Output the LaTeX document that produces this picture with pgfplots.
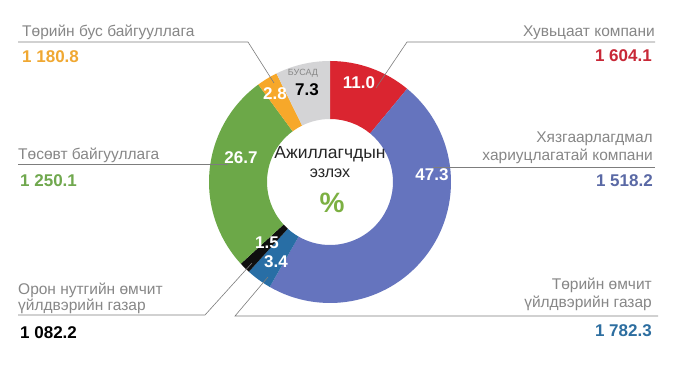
\documentclass[border=0pt]{standalone}
\usepackage{pgfplots}
\pgfplotsset{compat=1.18}
\usepackage{fontspec}
\setmainfont{Liberation Sans}
\definecolor{cRed}{RGB}{218,37,48}
\definecolor{cBlue}{RGB}{101,116,190}
\definecolor{cTeal}{RGB}{40,110,165}
\definecolor{cBlack}{RGB}{15,15,15}
\definecolor{cGreen}{RGB}{108,168,72}
\definecolor{cOrange}{RGB}{247,168,42}
\definecolor{cGrey}{RGB}{212,212,214}
\definecolor{tOrange}{RGB}{240,168,50}
\definecolor{tGreen}{RGB}{112,168,78}
\definecolor{tRed}{RGB}{200,40,55}
\definecolor{tBlue}{RGB}{90,105,165}
\definecolor{tTeal}{RGB}{45,110,160}
\definecolor{cLab}{RGB}{135,135,135}
\definecolor{cLine}{RGB}{125,125,125}
\definecolor{cPct}{RGB}{124,176,66}
\begin{document}
\begin{tikzpicture}
\begin{axis}[x=1pt,y=1pt,xmin=0,xmax=681,ymin=0,ymax=371,hide axis,clip=false]
\fill[white] (axis cs:0,0) rectangle (axis cs:681,371);
\xdef\cum{0}
\foreach \v/\c in {11.0/cRed,47.3/cBlue,3.4/cTeal,1.5/cBlack,26.7/cGreen,2.8/cOrange,7.3/cGrey}{
  \pgfmathsetmacro\a{90-3.6*\cum}
  \pgfmathsetmacro\b{90-3.6*(\cum+\v)}
  \pgfmathsetmacro\xo{330+121*cos(\a)}
  \pgfmathsetmacro\yo{189+121*sin(\a)}
  \pgfmathsetmacro\xi{330+63*cos(\b)}
  \pgfmathsetmacro\yi{189+63*sin(\b)}
  \edef\temp{\noexpand\fill[fill=\c] (axis cs:\xo,\yo) arc[start angle=\a, end angle=\b, radius=121pt] -- (axis cs:\xi,\yi) arc[start angle=\b, end angle=\a, radius=63pt] -- cycle;}
  \temp
  \pgfmathsetmacro\newcum{\cum+\v}
  \xdef\cum{\newcum}
}
% leader lines
\draw[cLine, line width=0.6pt] (axis cs:18,329) -- (axis cs:248,329) -- (axis cs:274,288);
\draw[cLine, line width=0.6pt] (axis cs:18,207) -- (axis cs:228,207);
\draw[cLine, line width=0.6pt] (axis cs:18,56) -- (axis cs:205,56) -- (axis cs:252,108);
\draw[cLine, line width=0.6pt] (axis cs:655,329) -- (axis cs:407,329) -- (axis cs:376,283);
\draw[cLine, line width=0.6pt] (axis cs:433,204) -- (axis cs:655,204);
\draw[cLine, line width=0.6pt] (axis cs:658,55) -- (axis cs:235,55) -- (axis cs:268,94);
% segment values
\begin{scope}[every node/.style={font=\bfseries\fontsize{17}{19}\selectfont, text=white, anchor=center, inner sep=0pt}]
\node at (axis cs:359,288) {11.0};
\node at (axis cs:432,196) {47.3};
\node at (axis cs:241,213) {26.7};
\node at (axis cs:275,277) {2.8};
\node[text=black] at (axis cs:307,281) {7.3};
\node at (axis cs:267,128) {1.5};
\node at (axis cs:276,109) {3.4};
\end{scope}
\node[font=\fontsize{9}{10}\selectfont, text=cLab, inner sep=0pt] at (axis cs:303,298) {БУСАД};
% centre
\node[font=\fontsize{17.5}{19}\selectfont, text=black!85, inner sep=0pt] at (axis cs:330,217) {Ажиллагчдын};
\node[font=\fontsize{16}{18}\selectfont, text=black!85, inner sep=0pt] at (axis cs:330,198) {эзлэх};
\node[font=\bfseries\fontsize{28}{30}\selectfont, text=cPct, inner sep=0pt] at (axis cs:332,168) {\%};
% left labels
\begin{scope}[every node/.style={font=\fontsize{15.5}{18}\selectfont, text=cLab, inner sep=0pt, anchor=base west}]
\node at (axis cs:22,334) {Төрийн бус байгууллага};
\node at (axis cs:18,211) {Төсөвт байгууллага};
\node at (axis cs:18,76) {Орон нутгийн өмчит};
\node at (axis cs:18,60) {үйлдвэрийн газар};
\end{scope}
\begin{scope}[every node/.style={font=\bfseries\fontsize{17}{19}\selectfont, inner sep=0pt, anchor=base west}]
\node[text=tOrange] at (axis cs:22,308) {1 180.8};
\node[text=tGreen] at (axis cs:20,184) {1 250.1};
\node[text=black] at (axis cs:20,32) {1 082.2};
\end{scope}
% right labels
\begin{scope}[every node/.style={font=\fontsize{15.5}{18}\selectfont, text=cLab, inner sep=0pt, anchor=base east}]
\node at (axis cs:655,334) {Хувьцаат компани};
\node at (axis cs:653,228) {Хязгаарлагдмал};
\node at (axis cs:653,210) {хариуцлагатай компани};
\node at (axis cs:652,81) {Төрийн өмчит};
\node at (axis cs:652,63) {үйлдвэрийн газар};
\end{scope}
\begin{scope}[every node/.style={font=\bfseries\fontsize{17}{19}\selectfont, inner sep=0pt, anchor=base east}]
\node[text=tRed] at (axis cs:652,309) {1 604.1};
\node[text=tBlue] at (axis cs:653,184) {1 518.2};
\node[text=tTeal] at (axis cs:652,34) {1 782.3};
\end{scope}
\end{axis}
\end{tikzpicture}
\end{document}
